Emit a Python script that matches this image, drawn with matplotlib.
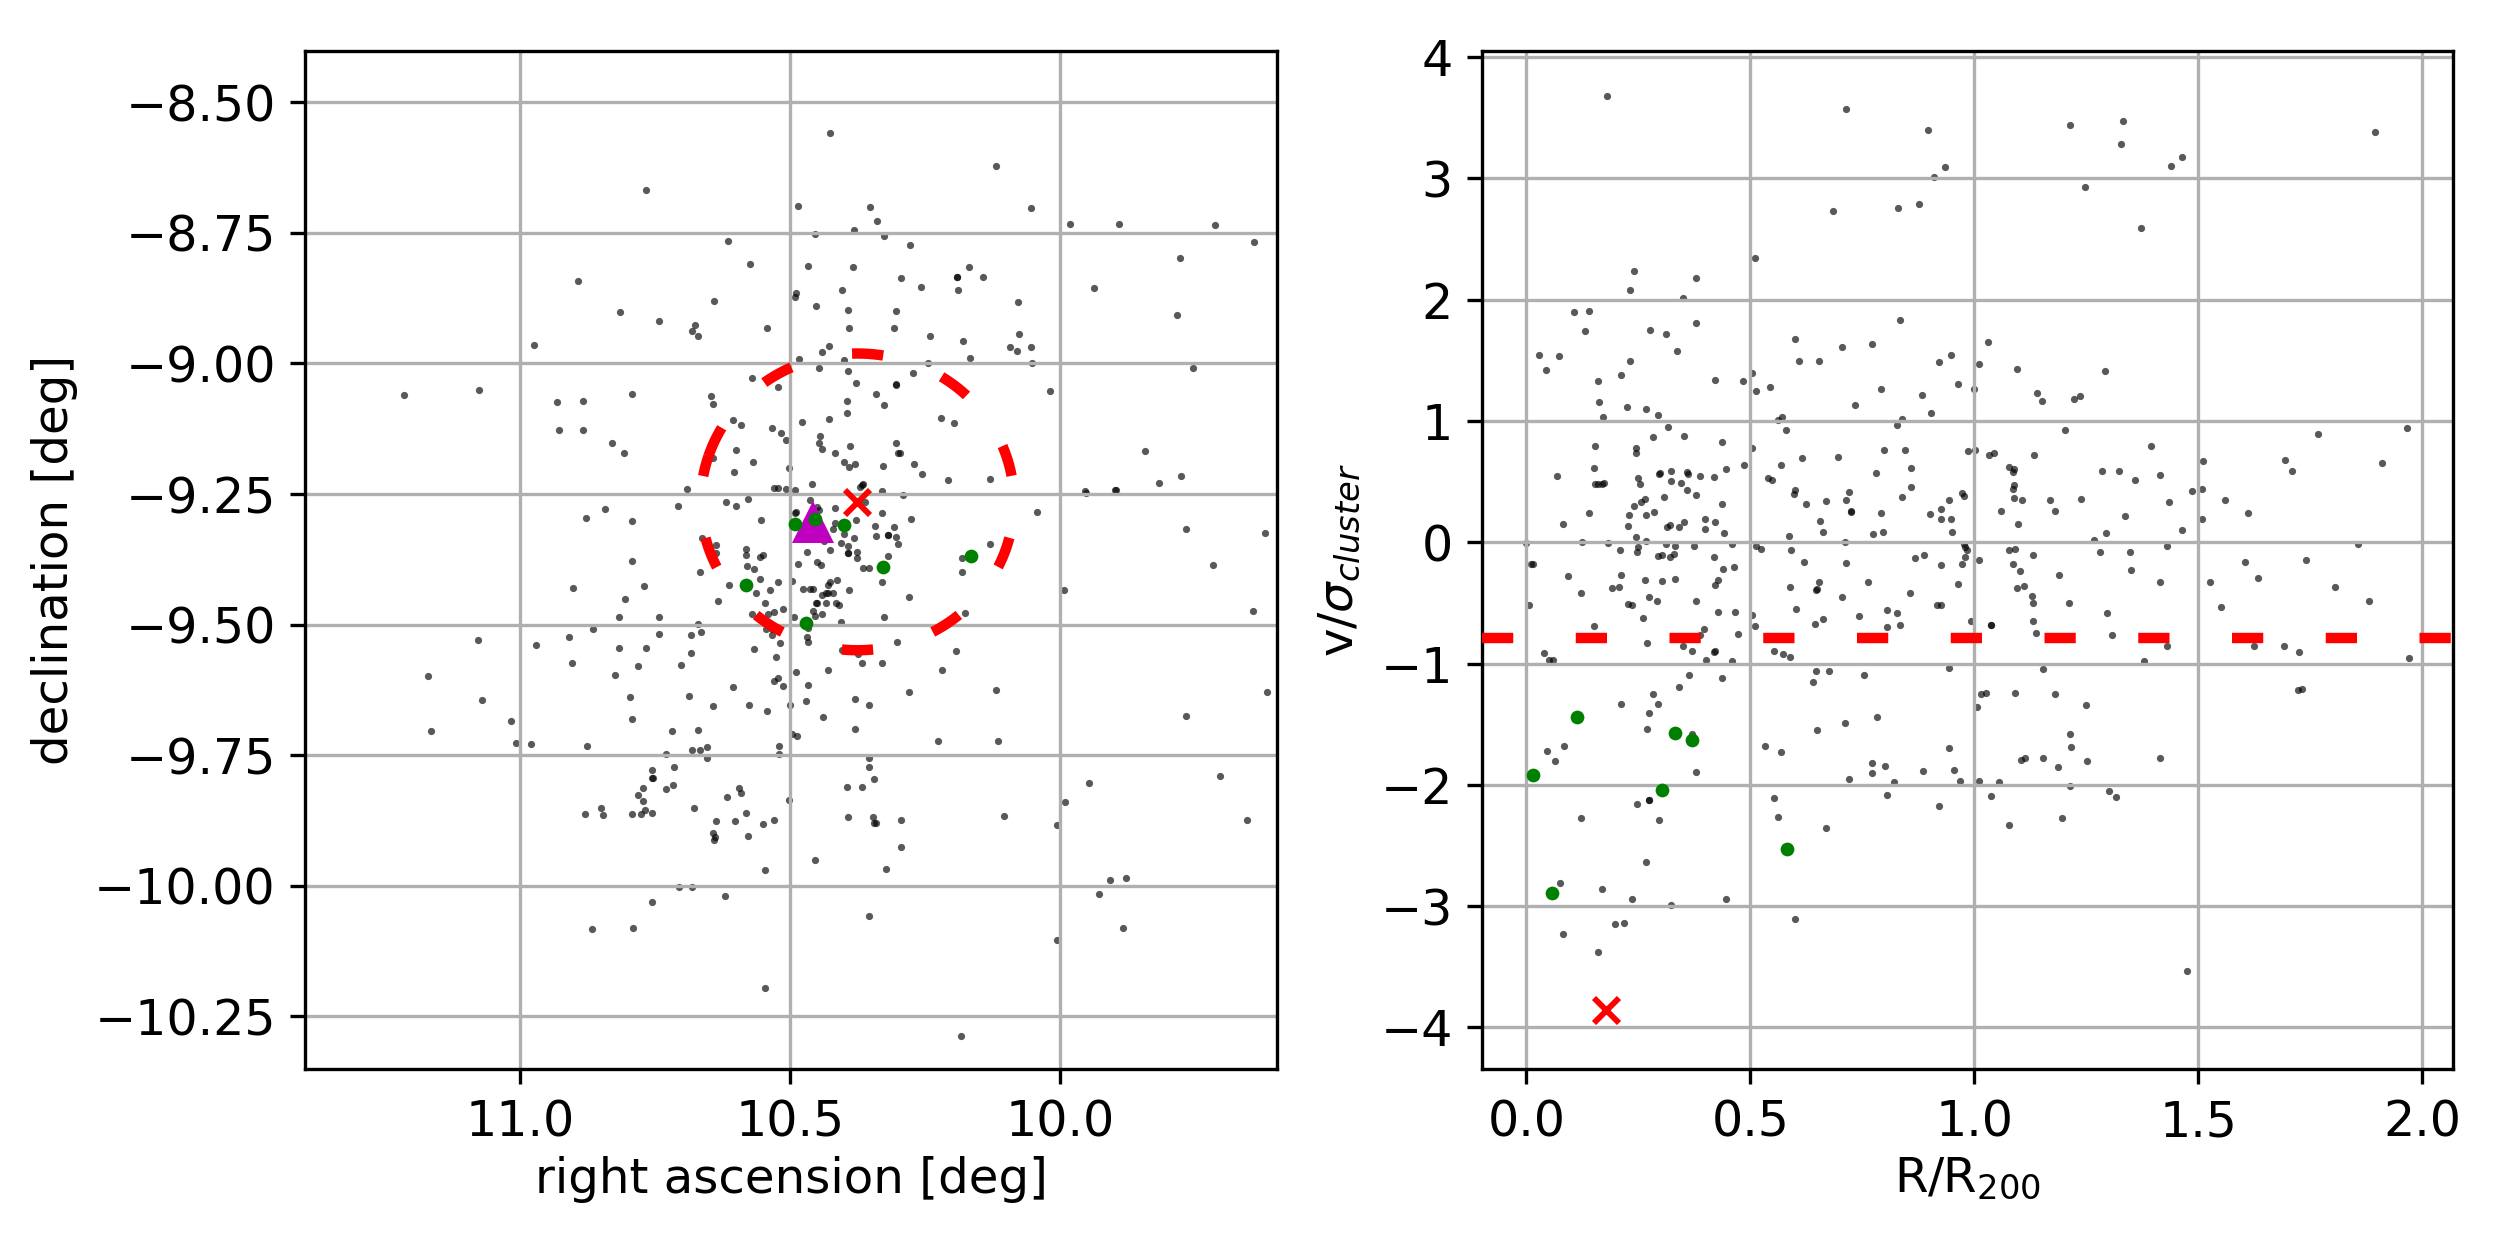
import numpy as np
import matplotlib
matplotlib.use("Agg")
import matplotlib.pyplot as plt

ra_members = [
10.767,10.486,10.615,10.574,10.893,10.489,10.491,10.641,10.815,10.744,10.676,10.683,10.672,10.543,10.974,10.485,10.572,10.524,11.215,11.076,
10.933,10.885,10.793,10.648,10.644,10.606,10.591,10.535,10.518,10.509,10.928,10.885,10.831,10.809,10.643,10.643,10.600,10.570,10.604,10.502,
10.691,10.531,10.524,10.509,10.491,10.620,10.600,10.578,10.709,10.844,10.878,10.794,10.554,10.489,10.492,10.664,
10.637,10.583,10.583,10.551,10.556,10.637,10.794,10.486,10.580,10.567,10.667,10.557,10.498,10.524,10.902,10.772,10.613,10.537,10.563,10.807,
10.635,10.548,10.513,10.531,10.572,10.541,10.817,10.744,10.494,10.672,10.865,10.546,10.535,10.911,10.744,10.685,10.665,10.535,11.078,10.972,
10.520,10.817,10.767,10.567,10.685,10.904,10.783,10.702,10.526,10.824,11.172,10.489,10.524,10.530,10.513,10.606,10.798,10.687,11.072,10.644,
10.576,10.500,10.543,11.017,10.794,11.165,10.720,10.672,10.498,10.487,11.009,10.980,10.876,10.683,10.668,10.654,10.522,10.731,10.522,10.654,
10.715,10.757,10.757,10.754,10.717,10.730,10.774,10.596,10.591,10.618,10.783,10.774,10.502,10.850,10.678,10.880,10.848,10.793,10.776,10.770,
10.756,10.583,10.637,10.602,10.550,10.530,10.644,10.639,10.641,10.578,10.548,10.707,10.683,10.622,10.757,10.868,10.791,10.548,
10.426,10.120,10.352,10.055,10.339,10.383,9.983,9.891,9.713,10.455,10.326,9.642,10.278,10.468,10.385,10.170,9.778,10.296,10.192,10.192,
10.143,10.259,10.404,10.189,9.937,10.078,10.452,10.394,10.305,9.785,10.391,10.309,10.241,10.076,10.181,10.428,10.442,10.094,10.080,10.055,
10.400,10.246,10.167,10.052,10.448,10.394,9.754,10.274,10.378,10.304,10.305,10.341,10.020,10.396,10.326,10.396,10.428,10.478,10.222,10.198,
10.446,10.448,10.304,10.389,10.441,9.844,10.418,10.300,10.298,10.400,10.380,10.391,10.328,10.272,10.257,9.776,9.817,10.209,10.131,10.461,
10.365,10.372,10.368,10.331,10.292,9.954,9.953,9.899,9.897,10.463,10.450,10.448,10.418,10.362,10.331,10.043,10.276,10.378,10.417,10.422,
10.344,10.309,9.768,9.622,10.341,10.320,10.320,10.400,10.383,10.305,10.437,
10.407,10.394,10.300,10.130,10.470,10.426,10.394,10.394,10.376,10.376,10.320,10.183,9.717,10.450,10.444,10.365,10.355,10.183,10.413,10.426,
10.431,10.331,10.476,10.463,10.459,10.391,9.994,10.280,10.441,10.435,10.430,10.422,10.450,10.452,10.435,10.415,10.411,10.459,10.441,10.454,
10.407,10.326,10.176,9.644,10.467,10.470,10.467,10.302,10.194,10.374,10.404,10.368,10.330,10.431,10.220,10.467,10.120,10.281,9.617,10.472,
10.381,10.355,9.768,10.439,10.380,10.226,10.115,10.354,10.355,9.948,9.704,10.346,10.396,10.368,9.991,10.394,10.348,10.296,10.105,10.342,
10.345,10.006,9.655,10.296,10.454,10.324,9.878,9.909,9.928,9.885,10.355,10.007,10.185]
dec_members = [
-8.669,-8.698,-8.765,-8.809,-8.843,-8.866,-8.872,-8.881,-8.901,-8.918,-8.926,-8.938,-8.947,-8.932,-8.964,-8.992,-9.027,-9.046,-9.061,-9.050,
-9.073,-9.071,-9.058,-9.063,-9.077,-9.108,-9.117,-9.123,-9.133,-9.146,-9.127,-9.127,-9.153,-9.172,-9.149,-9.181,-9.165,-9.188,-9.207,-9.201,
-9.241,-9.239,-9.239,-9.241,-9.243,-9.265,-9.272,-9.259,-9.272,-9.278,-9.295,-9.301,-9.299,-9.284,-9.286,-9.335,
-9.348,-9.356,-9.367,-9.367,-9.371,-9.363,-9.379,-9.383,-9.388,-9.394,-9.400,-9.413,-9.417,-9.419,-9.430,-9.426,-9.425,-9.434,-9.440,-9.450,
-9.455,-9.459,-9.471,-9.476,-9.480,-9.480,-9.486,-9.486,-9.486,-9.498,-9.509,-9.509,-9.509,-9.523,-9.517,-9.519,-9.515,-9.519,-9.530,-9.538,
-9.536,-9.545,-9.545,-9.547,-9.555,-9.574,-9.580,-9.578,-9.561,-9.597,-9.599,-9.591,-9.603,-9.608,-9.618,-9.620,-9.639,-9.637,-9.645,-9.656,
-9.654,-9.653,-9.666,-9.685,-9.681,-9.703,-9.704,-9.702,-9.710,-9.714,-9.727,-9.729,-9.733,-9.739,-9.739,-9.735,-9.733,-9.748,-9.747,-9.756,
-9.773,-9.779,-9.793,-9.794,-9.807,-9.815,-9.813,-9.813,-9.823,-9.829,-9.827,-9.838,-9.835,-9.850,-9.850,-9.863,-9.865,-9.862,-9.862,-9.854,
-9.860,-9.860,-9.875,-9.875,-9.882,-9.873,-9.899,-9.907,-9.912,-9.905,-9.970,-10.003,-10.003,-10.020,-10.030,-10.082,-10.080,-10.195,
-8.558,-8.623,-8.701,-8.703,-8.727,-8.744,-8.734,-8.734,-8.736,-8.753,-8.756,-8.767,-8.773,-8.813,-8.816,-8.816,-8.799,-8.837,-8.835,-8.835,
-8.835,-8.854,-8.860,-8.860,-8.856,-8.883,-8.891,-8.897,-8.899,-8.907,-8.933,-8.932,-8.947,-8.943,-8.958,-8.966,-8.979,-8.968,-8.976,-8.968,
-8.994,-9.000,-8.989,-9.000,-9.008,-9.014,-9.008,-9.019,-9.038,-9.039,-9.042,-9.059,-9.052,-9.071,-9.079,-9.094,-9.106,-9.112,-9.104,-9.114,
-9.138,-9.152,-9.152,-9.158,-9.163,-9.167,-9.172,-9.172,-9.172,-9.188,-9.193,-9.199,-9.197,-9.193,-9.211,-9.216,-9.228,-9.224,-9.222,-9.230,
-9.231,-9.236,-9.233,-9.245,-9.251,-9.245,-9.248,-9.243,-9.243,-9.261,-9.274,-9.281,-9.276,-9.266,-9.286,-9.284,-9.297,-9.299,-9.305,-9.316,
-9.311,-9.314,-9.316,-9.324,-9.330,-9.328,-9.328,-9.326,-9.335,-9.333,-9.340,
-9.343,-9.350,-9.345,-9.345,-9.360,-9.358,-9.363,-9.363,-9.360,-9.373,-9.369,-9.373,-9.386,-9.381,-9.386,-9.392,-9.392,-9.400,-9.415,-9.419,
-9.425,-9.419,-9.432,-9.431,-9.431,-9.434,-9.434,-9.447,-9.443,-9.440,-9.440,-9.440,-9.459,-9.459,-9.459,-9.459,-9.463,-9.473,-9.480,-9.484,
-9.494,-9.486,-9.478,-9.474,-9.507,-9.523,-9.534,-9.534,-9.551,-9.556,-9.549,-9.574,-9.574,-9.586,-9.586,-9.616,-9.626,-9.629,-9.628,-9.647,
-9.643,-9.654,-9.674,-9.676,-9.699,-9.723,-9.722,-9.756,-9.773,-9.804,-9.790,-9.796,-9.811,-9.811,-9.840,-9.869,-9.869,-9.873,-9.867,-9.879,
-9.879,-9.883,-9.873,-9.926,-9.951,-9.968,-9.984,-9.989,-10.015,-10.080,-10.057,-10.103,-10.288]

r_members = [
0.181,0.715,0.896,0.934,0.910,0.684,0.831,0.876,0.510,0.241,0.380,0.232,0.349,0.107,0.141,0.130,0.378,0.277,0.313,0.834,
0.601,0.704,0.773,0.029,0.072,0.045,0.337,0.232,0.608,0.653,0.921,0.948,1.010,0.212,0.159,0.422,0.483,0.505,0.514,0.545,
0.791,0.883,0.965,0.999,0.163,0.224,0.268,0.293,0.172,0.733,0.903,0.572,0.563,0.838,0.317,0.282,0.353,0.579,0.827,0.154,
0.244,0.244,0.436,0.503,0.798,0.845,0.986,1.001,0.615,0.697,0.069,0.152,0.299,0.297,0.324,0.358,0.360,0.387,0.445,0.485,
0.568,0.780,0.860,0.250,0.420,0.539,0.548,0.154,0.161,0.168,0.174,0.253,0.322,0.346,0.358,0.599,0.597,0.720,0.860,0.974,
0.977,0.378,0.308,0.264,0.257,0.840,0.715,0.670,0.945,0.241,0.438,0.624,0.724,0.726,0.284,0.139,0.230,0.268,0.791,0.901,
0.927,0.400,0.422,0.353,0.655,0.927,0.948,0.083,0.226,0.315,0.320,0.340,0.400,0.442,0.662,0.775,0.796,0.950,0.244,0.586,
0.000,0.125,0.183,0.268,0.711,0.210,0.250,0.248,0.311,0.333,0.375,0.460,0.512,0.523,0.592,0.977,0.979,0.983,0.418,0.295,
0.302,0.320,0.329,0.869,0.887,0.979,0.011,0.016,0.440,0.463,0.621,0.715,0.925,0.974,1.012,0.094,0.212,0.653,0.764,0.266,
0.304,0.333,0.429,0.422,0.965,0.192,0.206,0.588,0.646,0.650,0.121,0.856,0.273,0.706,0.291,0.380,0.228,0.235,0.006,0.916,
0.925,0.603,0.429,0.465,0.805,0.827,0.505,0.742,0.261,0.662,0.644,0.152,0.510,0.805,0.834,0.994,0.396,0.472,0.387,0.270,
0.349,0.371,0.040,0.420,0.422,0.554,0.574,0.588,0.051,0.060,0.402,0.460,0.646,0.677,0.945,0.753,0.364,0.641,0.438,0.340,
0.282,0.212,0.293,1.006,0.273,0.784,0.711,0.270,0.650,0.369,0.085,0.534,0.943,0.047,0.568,0.063,0.773,0.800,0.380,0.771,
0.885,0.956,0.720,0.820,0.968,1.010,0.554,0.805,0.273,0.273,0.248,0.921,0.121,0.561,0.297,0.670,0.268,0.076,0.170,0.235,
0.445,0.324,0.601,0.197,0.219,0.081,0.159,
1.214,1.333,1.328,1.895,1.464,1.439,1.247,1.372,1.030,1.095,1.292,1.140,1.151,1.223,1.236,1.202,1.768,1.967,1.395,1.033,
1.044,1.133,1.511,1.694,1.911,1.079,1.088,1.086,1.285,1.323,1.710,1.415,1.359,1.088,1.086,1.486,1.509,1.088,1.106,1.169,
1.238,1.560,1.435,1.059,1.180,1.611,1.336,1.509,1.097,1.464,1.294,1.267,
1.857,1.079,1.091,1.131,1.281,1.348,1.430,1.086,1.605,1.741,1.102,1.350,1.189,1.095,1.111,1.415,1.526,1.634,1.806,1.129,
1.131,1.211,1.882,1.551,1.296,1.037,1.037,1.131,1.138,1.307,1.430,1.625,1.692,1.725,1.971,1.379,1.153,1.723,1.732,1.016,
1.026,1.091,1.180,1.249,1.214,1.216,1.104,1.113,1.153,1.415,1.252,1.187,1.055,1.214,1.301,1.316,1.037,1.196,1.079,1.475]
v_members = [
3.678,3.570,3.397,3.093,3.011,2.729,2.755,2.789,2.343,2.235,2.178,2.079,2.014,1.897,1.906,1.741,1.806,1.749,1.715,1.832,
1.673,1.607,1.633,1.542,1.534,1.420,1.576,1.494,1.494,1.494,1.485,1.542,1.468,1.377,1.329,1.338,1.329,1.394,1.247,1.278,
1.261,1.213,1.304,1.261,1.156,1.113,1.096,1.048,1.031,1.130,1.065,1.031,1.005,1.014,0.949,0.866,0.875,0.923,0.963,0.792,
0.775,0.736,0.824,0.775,0.758,0.758,0.750,0.758,0.693,0.702,0.545,0.611,0.574,0.565,0.585,0.577,0.565,0.545,0.602,0.636,
0.636,0.568,0.611,0.528,0.537,0.528,0.511,0.477,0.477,0.480,0.486,0.477,0.503,0.486,0.429,0.429,0.395,0.412,0.454,0.403,
0.381,0.386,0.372,0.355,0.329,0.372,0.346,0.338,0.346,0.298,0.312,0.312,0.256,0.250,0.247,0.239,0.222,0.222,0.239,0.230,
0.273,0.190,0.165,0.165,0.173,0.190,0.190,0.148,0.133,0.125,0.139,0.125,0.108,0.074,0.082,0.065,0.082,0.082,0.043,0.048,
-0.003,0.006,-0.003,0.011,0.006,-0.065,-0.037,-0.082,-0.017,-0.031,-0.031,-0.017,-0.031,-0.057,-0.065,-0.017,-0.040,-0.065,-0.122,-0.114,
-0.105,-0.122,-0.097,-0.131,-0.105,-0.122,-0.179,-0.179,-0.222,-0.204,-0.165,-0.173,-0.187,-0.179,-0.148,-0.278,-0.270,-0.329,-0.329,-0.312,
-0.321,-0.304,-0.312,-0.355,-0.344,-0.378,-0.369,-0.369,-0.395,-0.386,-0.420,-0.420,-0.452,-0.452,-0.486,-0.486,-0.511,-0.520,-0.520,-0.520,
-0.520,-0.554,-0.577,-0.577,-0.560,-0.585,-0.602,-0.611,-0.628,-0.636,-0.676,-0.693,-0.693,-0.702,-0.684,-0.650,-0.719,-0.758,-0.767,-0.832,
-0.858,-0.897,-0.914,-0.906,-0.900,-0.897,-0.923,-0.949,-0.971,-0.971,-0.971,-0.980,-1.062,-1.062,-1.039,-1.096,-1.096,-1.153,-1.122,-1.196,
-1.252,-1.335,-1.335,-1.360,-1.409,-1.443,-1.494,-1.542,-1.551,-1.585,-1.676,-1.681,-1.698,-1.724,-1.732,-1.806,-1.823,-1.846,-1.897,-1.906,
-1.889,-1.880,-1.954,-1.979,-1.971,-1.971,-2.110,-2.085,-2.127,-2.127,-2.161,-2.175,-2.275,-2.266,-2.292,-2.357,-2.638,-2.812,-2.863,-2.945,
-2.945,-2.993,-3.110,-3.150,-3.141,-3.232,-3.380,
3.439,3.473,3.283,3.382,3.175,3.101,2.928,2.590,1.650,1.426,1.411,1.230,1.164,1.179,1.204,0.923,0.892,0.940,0.792,0.719,
0.736,0.719,0.667,0.676,0.653,0.619,0.602,0.577,0.585,0.585,0.585,0.554,0.511,0.471,0.437,0.420,0.437,0.364,0.346,0.346,
0.355,0.346,0.329,0.256,0.256,0.239,0.216,0.190,0.148,0.099,0.074,0.020,
-0.017,-0.065,-0.057,-0.105,-0.082,-0.082,-0.031,-0.179,-0.165,-0.148,-0.239,-0.230,-0.270,-0.378,-0.361,-0.329,-0.329,-0.295,-0.369,-0.443,
-0.503,-0.503,-0.486,-0.537,-0.585,-0.682,-0.682,-0.650,-0.750,-0.767,-0.858,-0.858,-0.858,-0.906,-0.957,-0.980,-1.048,-1.221,-1.213,-1.252,
-1.244,-1.244,-1.252,-1.343,-1.585,-1.690,-1.798,-1.781,-1.781,-1.781,-1.806,-1.854,-1.979,-2.011,-2.053,-2.101,-2.096,-2.275,-2.335,-3.539]

ra_green = [10.491, 10.455, 10.400, 10.328, 10.165, 10.583, 10.472]
dec_green = [-9.307, -9.297, -9.310, -9.390, -9.369, -9.425, -9.496]
r_green = [0.016, 0.114, 0.331, 0.371, 0.302, 0.058, 0.583]
v_green = [-1.923, -1.443, -1.576, -1.633, -2.045, -2.894, -2.533]

ra_peak, dec_peak = 10.459, -9.304
ra_bcg, dec_bcg = 10.376, -9.265
r_bcg, v_bcg = 0.179, -3.860
ra_radius, dec_radius = 0.290, 0.284
v_threshold = -0.786

ra_ticks = [11.0, 10.5, 10.0]
dec_ticks = [-8.5, -8.75, -9.0, -9.25, -9.5, -9.75, -10.0, -10.25]
r_ticks = [0.0, 0.5, 1.0, 1.5, 2.0]
v_ticks = [-4, -3, -2, -1, 0, 1, 2, 3, 4]

FS_TICK = 11.8
FS_LABEL = 11.6
dash = (0, (3, 6))

plt.rcParams["font.family"] = "DejaVu Sans"
fig = plt.figure(figsize=(2500 / 300, 1250 / 300), dpi=300)
ax1 = fig.add_axes([0.1220, 0.1446, 0.3888, 0.8146])
ax2 = fig.add_axes([0.5928, 0.1446, 0.3885, 0.8146])

n = min(len(ra_members), len(dec_members))
ax1.scatter(ra_members[:n], dec_members[:n], s=3.0, c="k", alpha=0.65, linewidths=0)
ax1.plot([ra_peak], [dec_peak], "^", color="m", ms=10, mew=0, zorder=3)
ax1.plot(ra_green, dec_green, "o", color="g", ms=3.3, mew=0, zorder=3)
ax1.plot([ra_bcg], [dec_bcg], "x", color="r", ms=6, mew=1.4, zorder=3)
theta = np.radians(np.linspace(18, 378, 361))
ax1.plot(ra_bcg + ra_radius * np.cos(theta), dec_bcg + dec_radius * np.sin(theta),
         color="r", lw=2.5, linestyle=dash, dash_capstyle="butt", zorder=3)
ax1.set_xlim(11.399, 9.599)
ax1.set_ylim(-10.351, -8.402)
ax1.set_xticks(ra_ticks)
ax1.set_xticklabels([f"{t:.1f}" for t in ra_ticks])
ax1.set_yticks(dec_ticks)
ax1.set_yticklabels([f"\u2212{abs(t):.2f}" for t in dec_ticks])
ax1.set_xlabel("right ascension [deg]", fontsize=FS_LABEL, labelpad=2.2)
ax1.set_ylabel("declination [deg]", fontsize=FS_LABEL)

m = min(len(r_members), len(v_members))
ax2.scatter(r_members[:m], v_members[:m], s=3.0, c="k", alpha=0.65, linewidths=0)
ax2.plot(r_green, v_green, "o", color="g", ms=3.3, mew=0, zorder=3)
ax2.plot([r_bcg], [v_bcg], "x", color="r", ms=6, mew=1.4, zorder=3)
ax2.axhline(v_threshold, color="r", lw=2.5, linestyle=dash, dash_capstyle="butt", zorder=3)
ax2.set_xlim(-0.099, 2.07)
ax2.set_ylim(-4.345, 4.05)
ax2.set_xticks(r_ticks)
ax2.set_yticks(v_ticks)
ax2.set_xlabel("R/R$_{200}$", fontsize=FS_LABEL, labelpad=2.2)
ax2.set_ylabel(r"v/$\sigma_{cluster}$", fontsize=FS_LABEL)

for ax in (ax1, ax2):
    ax.grid(True)
    ax.tick_params(labelsize=FS_TICK)

fig.savefig("out.png", dpi=300)
